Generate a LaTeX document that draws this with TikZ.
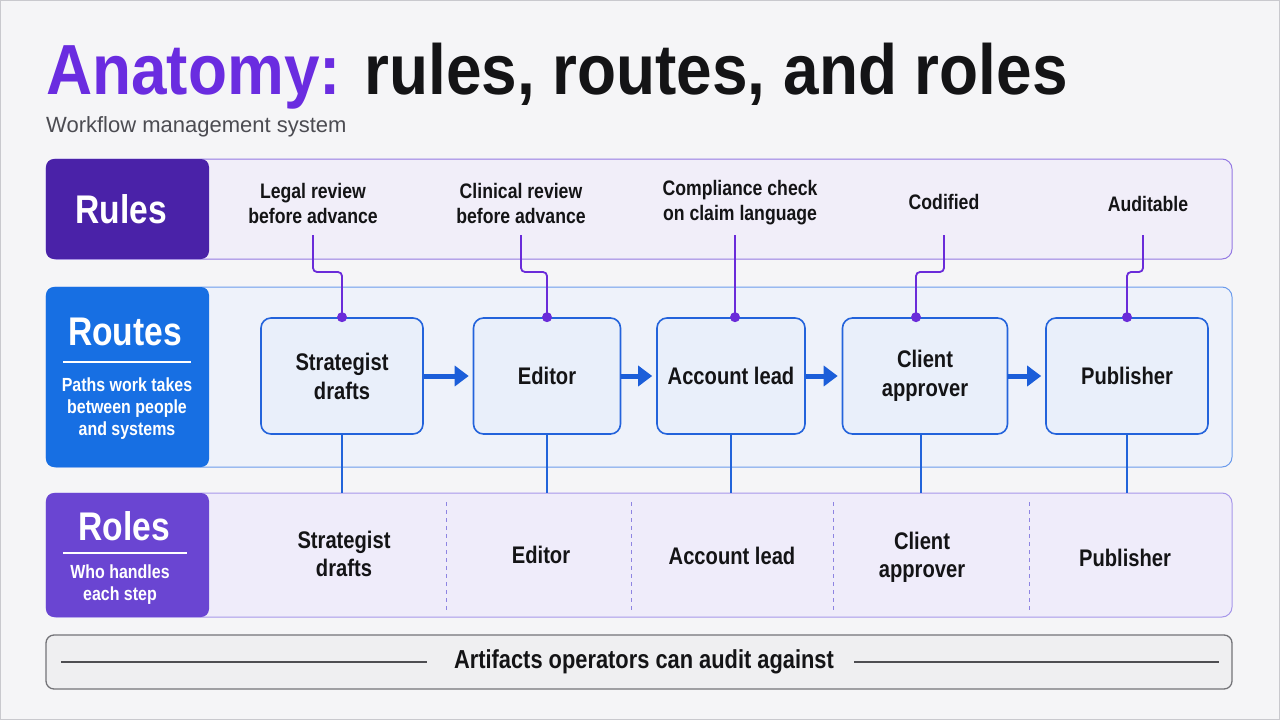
\documentclass[tikz,border=0pt]{standalone}
\usepackage{fontspec}
\usepackage{xcolor}
\usetikzlibrary{arrows.meta}
\setmainfont{Liberation Sans}
\newfontfamily\aTitleFont[FakeStretch=0.9]{Liberation Sans Bold}
\newfontfamily\aBoldFont[FakeStretch=0.84]{Liberation Sans Bold}
\newcommand{\aSize}[2]{\fontsize{#1}{#2}\selectfont}
\definecolor{aPage}{HTML}{F5F5F7}
\definecolor{aFrame}{HTML}{C9C9CE}
\definecolor{aTitle}{HTML}{6A2CE0}
\definecolor{aInk}{HTML}{141416}
\definecolor{aSub}{HTML}{4C4C52}
\definecolor{aRulesHead}{HTML}{4A22A8}
\definecolor{aRulesFill}{HTML}{F1EEF9}
\definecolor{aRulesLine}{HTML}{9479E3}
\definecolor{aRoutesHead}{HTML}{176FE3}
\definecolor{aRoutesFill}{HTML}{EEF2FA}
\definecolor{aRoutesLine}{HTML}{6B9BEC}
\definecolor{aRolesHead}{HTML}{6A45D2}
\definecolor{aRolesFill}{HTML}{EFECFA}
\definecolor{aRolesLine}{HTML}{A797EA}
\definecolor{aStepFill}{HTML}{E9EFFA}
\definecolor{aStepLine}{HTML}{2363DB}
\definecolor{aArrow}{HTML}{1B5ED9}
\definecolor{aWire}{HTML}{6A2BD9}
\definecolor{aDown}{HTML}{2264DA}
\definecolor{aDivider}{HTML}{8E84E2}
\definecolor{aBarFill}{HTML}{EFEFF1}
\definecolor{aBarLine}{HTML}{737378}
\definecolor{aBarRule}{HTML}{4E4E52}

\begin{document}
\begin{tikzpicture}[x=1pt,y=-1pt,
  band/.style={rounded corners=10pt, line width=1pt, inner sep=0pt, minimum width=1186pt},
  headbox/.style={rounded corners=8pt, inner sep=0pt, minimum width=163pt},
  headtext/.style={inner sep=0pt, text=white, font=\aBoldFont\aSize{40}{40}},
  headnote/.style={inner sep=0pt, text=white, align=center, font=\aBoldFont\aSize{19}{22}},
  stepbox/.style={draw=aStepLine, line width=1.6pt, fill=aStepFill, rounded corners=10pt, minimum height=116pt, inner sep=0pt, align=center, text=aInk, font=\aBoldFont\aSize{24}{29}},
  ruletext/.style={inner sep=0pt, align=center, text=aInk, font=\aBoldFont\aSize{21}{25}},
  roletext/.style={inner sep=0pt, align=center, text=aInk, font=\aBoldFont\aSize{24}{28}},
  flow/.style={draw=aArrow, line width=5pt, -{Triangle[length=14pt,width=20pt]}, shorten >=4pt},
  rulewire/.style={draw=aWire, line width=1.8pt, rounded corners=4pt},
  downwire/.style={draw=aDown, line width=1.8pt},
  divider/.style={draw=aDivider, line width=0.9pt, dash pattern=on 4pt off 4pt}]
\useasboundingbox (0,0) rectangle (1280,720);
\fill[aPage] (0,0) rectangle (1280,720);
\draw[aFrame, line width=1.2pt] (0.6,0.6) rectangle (1279.4,719.4);
\node[anchor=base west, inner sep=0pt, font=\aTitleFont\aSize{71}{71}] (title) at (46,94) {\textcolor{aTitle}{Anatomy:} \textcolor{aInk}{rules, routes, and roles}};
\node[anchor=base west, inner sep=0pt, text=aSub, font=\aSize{22}{22}] (subtitle) at (46,132) {Workflow management system};
\node[band, draw=aRulesLine, fill=aRulesFill, minimum height=100pt] (rulesband) at (639,209) {};
\node[band, draw=aRoutesLine, fill=aRoutesFill, minimum height=180pt] (routesband) at (639,377) {};
\node[band, draw=aRolesLine, fill=aRolesFill, minimum height=124pt] (rolesband) at (639,555) {};
\node[band, draw=aBarLine, fill=aBarFill, line width=1.3pt, rounded corners=8pt, minimum height=54pt] (auditbar) at (639,662) {};
\node[headbox, fill=aRulesHead, minimum height=100pt] (ruleshead) at (127.5,209) {};
\node[headbox, fill=aRoutesHead, minimum height=180pt] (routeshead) at (127.5,377) {};
\node[headbox, fill=aRolesHead, minimum height=124pt] (roleshead) at (127.5,555) {};
\node[headtext] (rulesname) at (121,209) {Rules};
\node[headtext] (routesname) at (125,332) {Routes};
\node[headtext] (rolesname) at (124,526) {Roles};
\draw[white, line width=1.3pt] (63,362) -- (191,362);
\draw[white, line width=1.3pt] (63,553) -- (187,553);
\node[headnote] (routesnote) at (127,409) {Paths work takes\\between people\\and systems};
\node[headnote] (rolesnote) at (120,585) {Who handles\\each step};
\node[ruletext] (r1) at (313,203) {Legal review\\before advance};
\node[ruletext] (r2) at (521,203) {Clinical review\\before advance};
\node[ruletext] (r3) at (740,203) {Compliance check\\on claim language};
\node[ruletext] (r4) at (944,202) {Codified};
\node[ruletext] (r5) at (1148,204) {Auditable};
\coordinate (wiretop) at (0,235);
\node[stepbox, minimum width=162pt] (s1) at (342,376) {Strategist\\drafts};
\node[stepbox, minimum width=147pt] (s2) at (547,376) {Editor};
\node[stepbox, minimum width=148pt] (s3) at (731,376) {Account lead};
\node[stepbox, minimum width=165pt] (s4) at (925,376) {Client\\approver};
\node[stepbox, minimum width=162pt] (s5) at (1127,376) {Publisher};
\draw[flow] (s1.east) -- (s2.west);
\draw[flow] (s2.east) -- (s3.west);
\draw[flow] (s3.east) -- (s4.west);
\draw[flow] (s4.east) -- (s5.west);
\draw[rulewire] (r1.south |- wiretop) -- ++(0,37) -| (s1.north);
\draw[rulewire] (r2.south |- wiretop) -- ++(0,37) -| (s2.north);
\draw[rulewire] ([xshift=4pt]s3.north |- wiretop) -- ([xshift=4pt]s3.north);
\draw[rulewire] (r4.south |- wiretop) -- ++(0,37) -| ([xshift=-9pt]s4.north);
\draw[rulewire] ([xshift=-5pt]r5.south |- wiretop) -- ++(0,37) -| (s5.north);
\fill[aWire] (s1.north) circle (5pt);
\fill[aWire] (s2.north) circle (5pt);
\fill[aWire] ([xshift=4pt]s3.north) circle (5pt);
\fill[aWire] ([xshift=-9pt]s4.north) circle (5pt);
\fill[aWire] (s5.north) circle (5pt);
\foreach \s in {s1,s2,s3,s5} \draw[downwire] (\s.south) -- (\s.south |- rolesband.north);
\draw[downwire] ([xshift=-4pt]s4.south) -- ([xshift=-4pt]s4.south |- rolesband.north);
\foreach \x in {446,631,833,1029} \draw[divider] (\x,502) -- (\x,612);
\node[roletext] (o1) at (344,554) {Strategist\\drafts};
\node[roletext] (o2) at (541,555) {Editor};
\node[roletext] (o3) at (732,556) {Account lead};
\node[roletext] (o4) at (922,557) {Client\\approver};
\node[roletext] (o5) at (1125,558) {Publisher};
\node[inner sep=0pt, text=aInk, font=\aBoldFont\aSize{26}{26}] (audit) at (644,662) {Artifacts operators can audit against};
\draw[aBarRule, line width=1.8pt] ([xshift=16pt]auditbar.west) -- ([xshift=-27pt]audit.west);
\draw[aBarRule, line width=1.8pt] ([xshift=20pt]audit.east) -- ([xshift=-14pt]auditbar.east);
\end{tikzpicture}
\end{document}
